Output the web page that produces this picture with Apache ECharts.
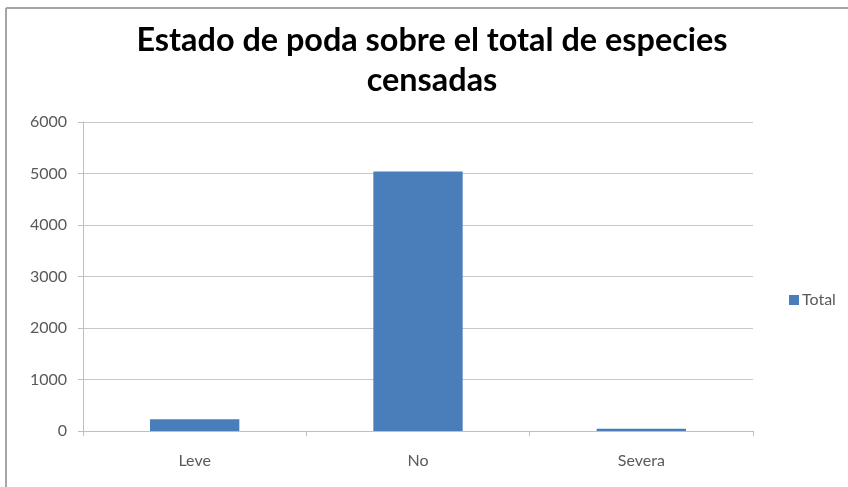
<!DOCTYPE html>
<html>
<head>
<meta charset="utf-8">
<script src="https://cdn.jsdelivr.net/npm/echarts@6/dist/echarts.min.js"></script>
<style>
html,body{margin:0;padding:0;background:#fff;}
#c{width:848px;height:487px;}
</style>
</head>
<body>
<div id="c"></div>
<script>
var categories = ["Leve", "No", "Severa"];
var totalValues = [230, 5040, 45];
var yTicks = [0, 1000, 2000, 3000, 4000, 5000, 6000];
var seriesName = "Total";
var titleText = "Estado de poda sobre el total de especies\ncensadas";

var chart = echarts.init(document.getElementById('c'), null, {renderer: 'canvas'});
chart.setOption({
  animation: false,
  backgroundColor: '#ffffff',
  title: {
    text: titleText,
    left: 432,
    top: 21,
    padding: 0,
    textAlign: 'center',
    textStyle: {
      fontFamily: 'Lato',
      fontWeight: 'bold',
      fontSize: 32.4,
      lineHeight: 40,
      color: '#000000'
    }
  },
  graphic: [
    {type: 'line', shape: {x1: 6, y1: 8, x2: 848, y2: 8}, style: {stroke: '#a6a6a6', lineWidth: 2}},
    {type: 'line', shape: {x1: 6, y1: 8, x2: 6, y2: 487}, style: {stroke: '#a6a6a6', lineWidth: 2}}
  ],
  legend: {
    left: 784,
    top: 287,
    orient: 'vertical',
    itemWidth: 10,
    itemHeight: 10,
    itemGap: 4,
    icon: 'rect',
    data: [seriesName],
    textStyle: {fontFamily: 'Lato', fontSize: 16, color: '#595959', padding: [0,0,0,-2]}
  },
  grid: {left: 83, right: 95, top: 122, bottom: 56, containLabel: false},
  xAxis: {
    type: 'category',
    data: categories,
    boundaryGap: true,
    axisLine: {show: true, lineStyle: {color: '#bfbfbf', width: 1}},
    axisTick: {show: true, length: 5, lineStyle: {color: '#bfbfbf'}},
    axisLabel: {fontFamily: 'Lato', fontSize: 16, color: '#595959', margin: 22}
  },
  yAxis: {
    type: 'value',
    min: yTicks[0],
    max: yTicks[yTicks.length - 1],
    interval: 1000,
    axisLine: {show: true, lineStyle: {color: '#bfbfbf', width: 1}},
    axisTick: {show: true, length: 5, lineStyle: {color: '#bfbfbf'}},
    splitLine: {show: true, lineStyle: {color: '#c8c8c8', width: 1}},
    axisLabel: {fontFamily: 'Lato', fontSize: 16, color: '#595959', margin: 16,
      formatter: function (v) { return String(v); }}
  },
  series: [{
    name: seriesName,
    type: 'bar',
    data: totalValues,
    barWidth: '40%',
    itemStyle: {color: '#4a7ebb'}
  }]
});
</script>
</body>
</html>
